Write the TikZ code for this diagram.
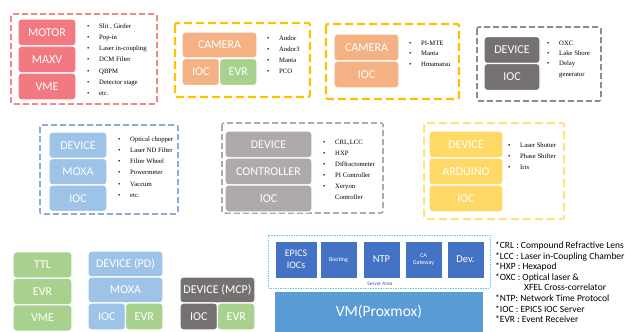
\documentclass[tikz,border=0pt]{standalone}
\usepackage{fontspec}
\setmainfont{Carlito}
\newfontfamily\listfont{Liberation Serif}
\usetikzlibrary{positioning}

\definecolor{redblk}{RGB}{242,121,128}
\definecolor{redline}{RGB}{246,135,142}
\definecolor{orangeblk}{RGB}{244,177,131}
\definecolor{greenblk}{RGB}{169,209,142}
\definecolor{yellowline}{RGB}{255,192,0}
\definecolor{darkgrayblk}{RGB}{118,113,113}
\definecolor{grayline}{RGB}{140,140,140}
\definecolor{blueblk}{RGB}{157,195,230}
\definecolor{blueline}{RGB}{143,170,220}
\definecolor{lightgrayblk}{RGB}{174,170,170}
\definecolor{yellowblk}{RGB}{255,217,102}
\definecolor{lightyellowline}{RGB}{255,226,122}
\definecolor{srvblue}{RGB}{68,114,196}
\definecolor{vmblue}{RGB}{91,155,213}
\definecolor{srvline}{RGB}{94,203,240}
\definecolor{srvtext}{RGB}{47,85,151}

\tikzset{
  blk/.style={draw=white, line width=1.4pt, rounded corners=3pt, text=white,
    font=\fontsize{12}{14}\selectfont, inner sep=0pt},
  sz/.style 2 args={minimum width=#1pt, minimum height=#2pt},
  grp/.style={dash pattern=on 6pt off 3pt, line width=1.8pt, rounded corners=2pt},
  lst/.style={anchor=north west, inner sep=0pt, align=left,
    font=\listfont\fontsize{6.7}{11.2}\selectfont},
  srv/.style={fill=srvblue, draw=white, line width=0.5pt, text=white,
    inner sep=0pt, align=center, minimum height=37pt},
}
\newcommand{\bl}{\makebox[12pt][l]{•}}

\begin{document}
\begin{tikzpicture}[x=1pt,y=-1pt]
  \useasboundingbox (0,0) rectangle (625,332);

  % motor group
  \draw[grp, draw=redline] (11,14) rectangle (157,104);
  \node[blk, fill=redblk, sz={58}{27}] (motor) at (47,32.5) {MOTOR};
  \node[blk, fill=redblk, sz={58}{27}] (maxv) at (47,59.5) {MAXV};
  \node[blk, fill=redblk, sz={58}{27}] (vme) at (47,86.5) {VME};
  \node[lst] (motorlist) at (87,23.5) {\bl Slit , Girder\\\bl Pop-in\\\bl Laser in-coupling\\\bl DCM Filter\\\bl QBPM\\\bl Detector stage\\\bl etc.};

  % camera with evr
  \draw[grp, draw=yellowline, line width=2.2pt, dash pattern=on 8pt off 4pt] (175,23) rectangle (310,97);
  \node[blk, fill=orangeblk, sz={75}{26}] (camA) at (219.5,45) {CAMERA};
  \node[blk, fill=orangeblk, sz={37.5}{27}] (camAioc) at (200.75,72) {IOC};
  \node[blk, fill=greenblk, sz={37.5}{27}] (camAevr) at (238.25,72) {EVR};
  \node[lst] (camAlist) at (267,35.5) {\bl Andor\\\bl Andor3\\\bl Manta\\\bl PCO};

  % camera
  \draw[grp, draw=yellowline, line width=2.2pt, dash pattern=on 8pt off 4pt] (326,24) rectangle (459,99);
  \node[blk, fill=orangeblk, sz={65}{27}] (camB) at (366.5,47.5) {CAMERA};
  \node[blk, fill=orangeblk, sz={65}{27}] (camBioc) at (366.5,74.5) {IOC};
  \node[lst, font=\listfont\fontsize{6.7}{10.5}\selectfont] (camBlist) at (409,40.5) {\bl PI-MTE\\\bl Manta\\\bl Hmamatsu};

  % oxc device
  \draw[grp, draw=grayline, line width=1.6pt] (477,27) rectangle (601,101);
  \node[blk, fill=darkgrayblk, sz={56}{27}] (devC) at (512,50) {DEVICE};
  \node[blk, fill=darkgrayblk, sz={56}{27}] (devCioc) at (512,77) {IOC};
  \node[lst, font=\listfont\fontsize{6.7}{10.3}\selectfont] (devClist) at (547,40.5) {\bl OXC\\\bl Lake Shore\\\bl Delay\\\hspace*{12pt}generator};

  % moxa group
  \draw[grp, draw=blueline, line width=1.6pt] (40,125) rectangle (178,214);
  \node[blk, fill=blueblk, sz={58}{26.5}] (devD) at (78,145.25) {DEVICE};
  \node[blk, fill=blueblk, sz={58}{26.5}] (moxaD) at (78,171.75) {MOXA};
  \node[blk, fill=blueblk, sz={58}{26.5}] (iocD) at (78,198.25) {IOC};
  \node[lst] (devDlist) at (118,136.5) {\bl Optical chopper\\\bl Laser ND Filter\\\bl Filter Wheel\\\bl Powermeter\\\bl Vaccum\\\bl etc.};

  % controller group
  \draw[grp, draw=lightgrayblk, line width=1.6pt] (222,123) rectangle (383,213);
  \node[blk, fill=lightgrayblk, sz={87}{27}] (devE) at (268.5,144.5) {DEVICE};
  \node[blk, fill=lightgrayblk, sz={87}{27}] (ctrlE) at (268.5,171.5) {CONTROLLER};
  \node[blk, fill=lightgrayblk, sz={87}{27}] (iocE) at (268.5,198.5) {IOC};
  \node[lst, font=\listfont\fontsize{6.7}{11}\selectfont] (devElist) at (323,139.5) {\bl CRL,LCC\\\bl HXP\\\bl Diffractometer\\\bl PI Controller\\\bl Xeryon\\\hspace*{12pt}Controller};

  % arduino group
  \draw[grp, draw=lightyellowline, line width=2pt, dash pattern=on 8pt off 4pt] (424,123) rectangle (564,219);
  \node[blk, fill=yellowblk, sz={74}{27}] (devF) at (466,144.5) {DEVICE};
  \node[blk, fill=yellowblk, sz={74}{27}] (ardF) at (466,171.5) {ARDUINO};
  \node[blk, fill=yellowblk, sz={74}{27}] (iocF) at (466,198.5) {IOC};
  \node[lst, font=\listfont\fontsize{6.7}{11}\selectfont] (devFlist) at (508,142.5) {\bl Laser Shutter\\\bl Phase Shifter\\\bl Iris};

  % timing stacks
  \node[blk, fill=greenblk, sz={59}{26.5}] (ttl) at (42.5,265) {TTL};
  \node[blk, fill=greenblk, sz={59}{26.5}] (ttlevr) at (42.5,291.5) {EVR};
  \node[blk, fill=greenblk, sz={59}{26.5}] (ttlvme) at (42.5,318) {VME};

  \node[blk, fill=blueblk, sz={75}{26}] (devpd) at (125.5,264) {DEVICE (PD)};
  \node[blk, fill=blueblk, sz={75}{26}] (pdmoxa) at (125.5,290) {MOXA};
  \node[blk, fill=blueblk, sz={37.5}{27}] (pdioc) at (106.75,316.5) {IOC};
  \node[blk, fill=greenblk, sz={37.5}{27}] (pdevr) at (144.25,316.5) {EVR};

  \node[blk, fill=darkgrayblk, sz={75}{26}] (devmcp) at (217.5,290) {DEVICE (MCP)};
  \node[blk, fill=darkgrayblk, sz={37.5}{27}] (mcpioc) at (198.75,316.5) {IOC};
  \node[blk, fill=greenblk, sz={37.5}{27}] (mcpevr) at (236.25,316.5) {EVR};

  % server area
  \draw[srvline, dash pattern=on 1.5pt off 1pt, line width=1pt] (268,235) rectangle (490,288);
  \node[srv, minimum width=42pt, font=\fontsize{10}{11.5}\selectfont] (epics) at (296,259.5) {EPICS\\IOCs};
  \node[srv, minimum width=37pt, font=\fontsize{6}{7}\selectfont] (boot) at (338.5,259.5) {Booting};
  \node[srv, minimum width=37pt, font=\fontsize{10.5}{12}\selectfont] (ntp) at (381.5,259.5) {NTP};
  \node[srv, minimum width=37pt, font=\fontsize{6}{7.5}\selectfont] (cagw) at (423.5,259.5) {CA\\Gateway};
  \node[srv, minimum width=37pt, font=\fontsize{10.5}{12}\selectfont] (dev) at (465.5,259.5) {Dev.};
  \node[text=srvtext, inner sep=0pt, font=\fontsize{5.3}{6}\selectfont] (srvarea) at (380,284) {Server Area};
  \node[fill=vmblue, text=white, inner sep=0pt, minimum width=208pt, minimum height=40pt,
    font=\fontsize{15.5}{17}\selectfont] (vm) at (379,312) {VM(Proxmox)};

  % abbreviations
  \node[anchor=north west, inner sep=0pt, align=left, font=\fontsize{9.5}{10.6}\selectfont] (legend) at (495,241.5)
    {*CRL : Compound Refractive Lens\\*LCC : Laser in-Coupling Chamber\\*HXP : Hexapod\\*OXC : Optical laser \&\\\hspace*{29pt}XFEL Cross-correlator\\*NTP: Network Time Protocol\\*IOC : EPICS IOC Server\\*EVR : Event Receiver};
\end{tikzpicture}
\end{document}
